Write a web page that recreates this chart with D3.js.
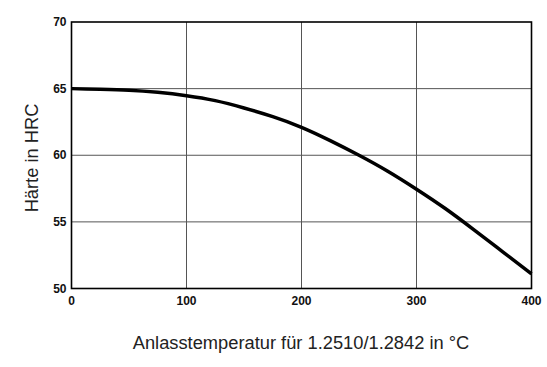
<!DOCTYPE html>
<html lang="de">
<head>
    <meta charset="UTF-8">
    <title>Härte</title>
    <script src="https://cdn.jsdelivr.net/npm/d3@7"></script>
    <style>
        body { margin: 0; background: #fff; }
        .tick-label { font-family: "Liberation Sans", Arial, sans-serif; font-weight: bold; font-size: 12px; fill: #111; }
        .axis-title { font-family: "Liberation Sans", Arial, sans-serif; font-size: 18.3px; fill: #222; }
    </style>
</head>
<body>
<div id="main"></div>
<script>
    // Anlasstemperatur (°C) und Härte (HRC)
    const temps = [0, 25, 50, 75, 100, 125, 150, 175, 200, 225, 250, 275, 300, 325, 350, 375, 400];
    const hardness = [65.0, 64.95, 64.88, 64.72, 64.47, 64.1, 63.55, 62.9, 62.1, 61.1, 60.0, 58.8, 57.45, 56.0, 54.4, 52.75, 51.1];
    const xTicks = [0, 100, 200, 300, 400];
    const yTicks = [50, 55, 60, 65, 70];

    const width = 547, height = 367;
    const margin = {left: 71.5, right: 15.5, top: 22, bottom: 78.5};

    const svg = d3.select('#main').append('svg')
        .attr('width', width)
        .attr('height', height);

    const x = d3.scaleLinear().domain([0, 400]).range([margin.left, width - margin.right]);
    const y = d3.scaleLinear().domain([50, 70]).range([height - margin.bottom, margin.top]);

    // Gitter
    svg.append('g').selectAll('line')
        .data(xTicks.slice(1, -1))
        .enter().append('line')
        .attr('x1', d => x(d)).attr('x2', d => x(d))
        .attr('y1', y(70)).attr('y2', y(50))
        .attr('stroke', '#555').attr('stroke-width', 1);

    svg.append('g').selectAll('line')
        .data(yTicks.slice(1, -1))
        .enter().append('line')
        .attr('x1', x(0)).attr('x2', x(400))
        .attr('y1', d => y(d)).attr('y2', d => y(d))
        .attr('stroke', '#555').attr('stroke-width', 1);

    // Rahmen
    svg.append('rect')
        .attr('x', x(0)).attr('y', y(70))
        .attr('width', x(400) - x(0)).attr('height', y(50) - y(70))
        .attr('fill', 'none').attr('stroke', '#000').attr('stroke-width', 1.6);

    // Kurve
    const line = d3.line()
        .x((d, i) => x(temps[i]))
        .y(d => y(d))
        .curve(d3.curveNatural);

    svg.append('path')
        .datum(hardness)
        .attr('d', line)
        .attr('fill', 'none')
        .attr('stroke', '#000')
        .attr('stroke-width', 3.5);

    // Achsenbeschriftung
    svg.append('g').selectAll('text')
        .data(yTicks)
        .enter().append('text')
        .attr('class', 'tick-label')
        .attr('x', x(0) - 5)
        .attr('y', d => y(d) + 4)
        .attr('text-anchor', 'end')
        .text(d => d);

    svg.append('g').selectAll('text')
        .data(xTicks)
        .enter().append('text')
        .attr('class', 'tick-label')
        .attr('x', d => x(d))
        .attr('y', y(50) + 16)
        .attr('text-anchor', 'middle')
        .text(d => d);

    svg.append('text')
        .attr('class', 'axis-title')
        .attr('transform', `translate(38, 158) rotate(-90)`)
        .attr('text-anchor', 'middle')
        .text('Härte in HRC');

    svg.append('text')
        .attr('class', 'axis-title')
        .attr('x', 301)
        .attr('y', 349)
        .attr('text-anchor', 'middle')
        .text('Anlasstemperatur für 1.2510/1.2842 in °C');
</script>
</body>
</html>
